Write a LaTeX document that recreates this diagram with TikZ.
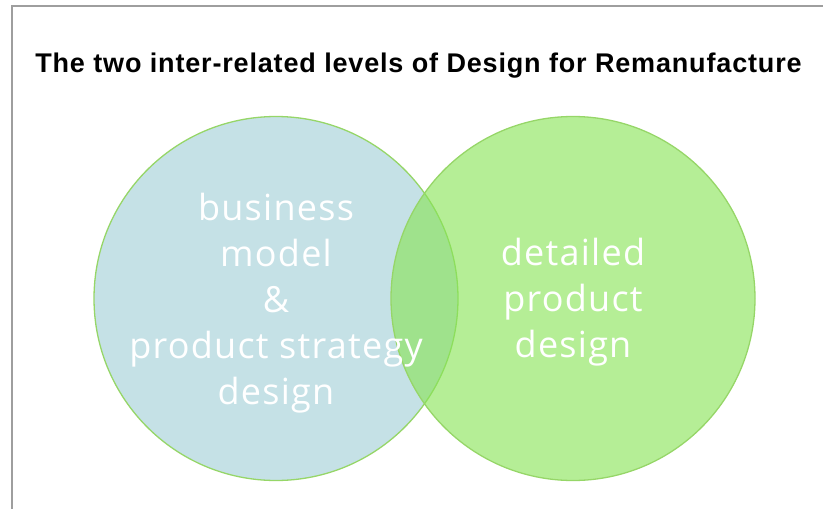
\documentclass[tikz,border=0pt]{standalone}
\usepackage{fontspec}
\setmainfont{Liberation Sans}
\newfontfamily\titlefont[LetterSpace=3.1]{Liberation Sans}
\newfontfamily\vennfont[LetterSpace=3.5]{Open Sans}
\definecolor{framegray}{RGB}{158,158,158}
\definecolor{ringgreen}{RGB}{150,214,104}
\definecolor{bizblue}{RGB}{197,225,230}
\definecolor{prodgreen}{RGB}{136,228,86}
\begin{document}
\begin{tikzpicture}[x=1pt,y=-1pt]
\tikzstyle{every node}+=[inner sep=0pt]
\tikzstyle{venn}=[circle, draw=ringgreen, line width=1.3pt, minimum size=364pt]
\tikzstyle{venntext}=[align=center, text=white, font=\vennfont\fontsize{36}{46}\selectfont]
\useasboundingbox (0,0) rectangle (823,509);
\draw [framegray, line width=1.6pt] (12,509) -- (12,6) -- (823,6);
\node [anchor=base, font=\titlefont\bfseries\fontsize{27}{30}\selectfont] (title) at (418.5,72)
  {The two inter-related levels of Design for Remanufacture};
\node [venn, fill=bizblue] (bizcircle) at (276,298.5) {};
\node [venn, fill=prodgreen, fill opacity=0.62] (prodcircle) at (573,298.5) {};
\node [venntext] (biztext) at (276,303) {business\\model\\\&\\product strategy\\design};
\node [venntext] (prodtext) at (573,302.5) {detailed\\product\\design};
\end{tikzpicture}
\end{document}
